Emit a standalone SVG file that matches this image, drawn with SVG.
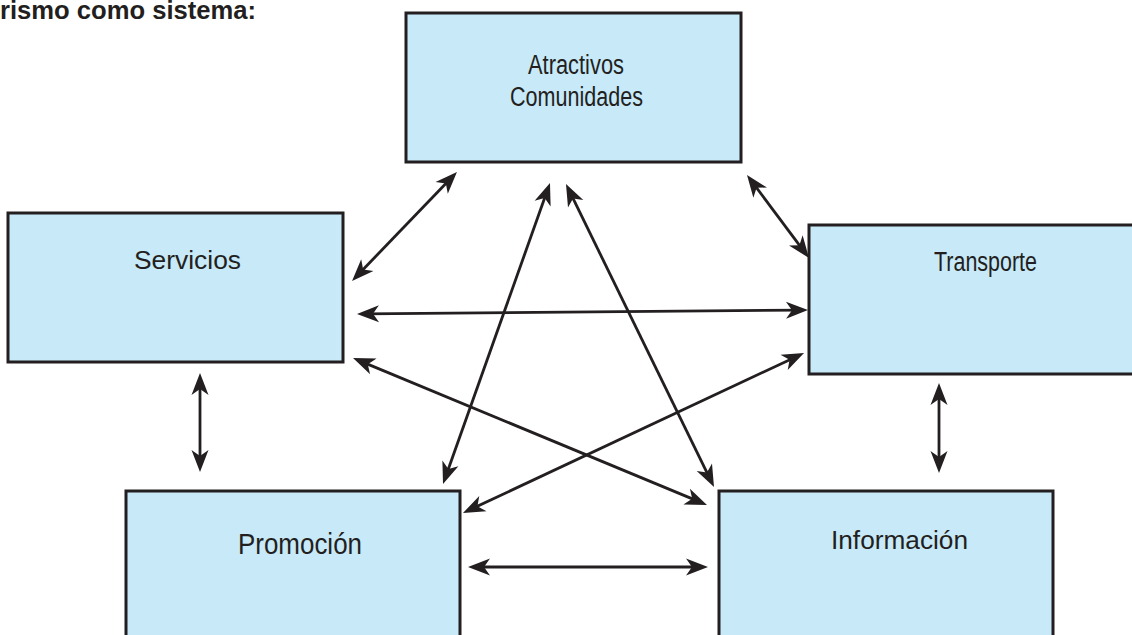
<svg xmlns="http://www.w3.org/2000/svg" width="1132" height="635" viewBox="0 0 1132 635">
  <style>
    .box { fill: #c7e9f8; stroke: #231f20; stroke-width: 3; }
    .lbl { font-family: "Liberation Sans", Arial, sans-serif; fill: #231f20; }
    .link { stroke: #231f20; stroke-width: 2.8; fill: none; marker-start: url(#head); marker-end: url(#head); }
  </style>
  <defs>
    <marker id="head" markerUnits="userSpaceOnUse" markerWidth="30" markerHeight="20" refX="0" refY="0" viewBox="-16 -10 28 20" orient="auto-start-reverse" overflow="visible">
      <path d="M-14,-8.5 L8,0 L-14,8.5 L-8,0 Z" fill="#231f20"/>
    </marker>
  </defs>

  <text class="lbl" x="0" y="18.5" font-size="25.5" font-weight="bold" textLength="256" lengthAdjust="spacingAndGlyphs">rismo como sistema:</text>

  <g id="atractivos">
    <rect class="box" x="406" y="13" width="335" height="149"/>
    <text class="lbl" x="528" y="74" font-size="27" textLength="96" lengthAdjust="spacingAndGlyphs">Atractivos</text>
    <text class="lbl" x="510" y="106" font-size="27" textLength="133" lengthAdjust="spacingAndGlyphs">Comunidades</text>
  </g>

  <g id="servicios">
    <rect class="box" x="8" y="213" width="335" height="149"/>
    <text class="lbl" x="134" y="269" font-size="26.5" textLength="107" lengthAdjust="spacingAndGlyphs">Servicios</text>
  </g>

  <g id="transporte">
    <rect class="box" x="809" y="225" width="340" height="149"/>
    <text class="lbl" x="934" y="271" font-size="27" textLength="103" lengthAdjust="spacingAndGlyphs">Transporte</text>
  </g>

  <g id="promocion">
    <rect class="box" x="126" y="491" width="334" height="160"/>
    <text class="lbl" x="238" y="554" font-size="29" textLength="124" lengthAdjust="spacingAndGlyphs">Promoción</text>
  </g>

  <g id="informacion">
    <rect class="box" x="719" y="491" width="334" height="160"/>
    <text class="lbl" x="831" y="549" font-size="26.5" textLength="137" lengthAdjust="spacingAndGlyphs">Información</text>
  </g>

  <g id="connectors">
    <line class="link" x1="451.4" y1="177.8" x2="357.6" y2="275.2"/>
    <line class="link" x1="751.8" y1="181.4" x2="804.2" y2="251.6"/>
    <line class="link" x1="365" y1="313.9" x2="800" y2="310.1"/>
    <line class="link" x1="360.4" y1="361.1" x2="699.6" y2="501.9"/>
    <line class="link" x1="796.8" y1="356.4" x2="470.2" y2="509.6"/>
    <line class="link" x1="476" y1="567" x2="700" y2="567"/>
    <line class="link" x1="200" y1="381" x2="200" y2="464"/>
    <line class="link" x1="939" y1="391" x2="939" y2="465"/>
    <line class="link" x1="547.3" y1="190.5" x2="445.7" y2="476.5"/>
    <line class="link" x1="569.5" y1="191.2" x2="710.5" y2="479.8"/>
  </g>
</svg>
